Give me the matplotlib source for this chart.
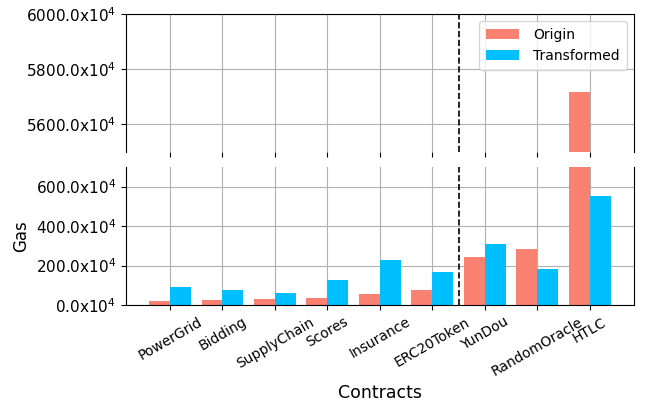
import numpy as np
import matplotlib
matplotlib.use("Agg")
import matplotlib.pyplot as plt
from matplotlib.ticker import FuncFormatter

# gas values in units of 10^4
contracts = ["PowerGrid", "Bidding", "SupplyChain", "Scores", "Insurance",
             "ERC20Token", "YunDou", "RandomOracle", "HTLC"]
origin = [22, 27, 31, 36, 56, 77, 246, 284, 5718]
transformed = [90, 78, 61, 127, 229, 167, 310, 182, 554]

x = np.arange(len(contracts))
w = 0.4
fmt = FuncFormatter(lambda v, p: "%.1fx10$^4$" % v)

fig = plt.figure(figsize=(6.46, 4.09), dpi=100)
ax_top = fig.add_axes([0.195, 0.628, 0.786, 0.338])
ax_bot = fig.add_axes([0.195, 0.254, 0.786, 0.338])

for ax in (ax_top, ax_bot):
    ax.bar(x - w / 2, origin, w, color="salmon", label="Origin", zorder=2)
    ax.bar(x + w / 2, transformed, w, color="deepskyblue", label="Transformed", zorder=2)
    ax.axvline(5.5, color="black", linestyle="--", linewidth=1.2, zorder=3)
    ax.grid(True, color="#b0b0b0", linewidth=0.8, zorder=0)
    ax.set_axisbelow(True)
    ax.set_xticks(x)
    ax.yaxis.set_major_formatter(fmt)
    ax.tick_params(axis="x", labelsize=10)
    ax.tick_params(axis="y", labelsize=11)

ax_top.set_ylim(5500, 6000)
ax_top.set_yticks([5600, 5800, 6000])
ax_top.spines["bottom"].set_visible(False)
ax_top.set_xticklabels([])
ax_top.legend(loc="upper right", fontsize=10, handlelength=2.4,
              handletextpad=1.0, borderpad=0.5)

ax_bot.set_ylim(0, 700)
ax_bot.set_yticks([0, 200, 400, 600])
ax_bot.spines["top"].set_visible(False)
ax_bot.set_xticklabels(contracts, rotation=30)
ax_bot.set_xlabel("Contracts", fontsize=12.5)
ax_bot.set_ylabel("Gas", fontsize=12)

fig.savefig("out.png", dpi=100)
